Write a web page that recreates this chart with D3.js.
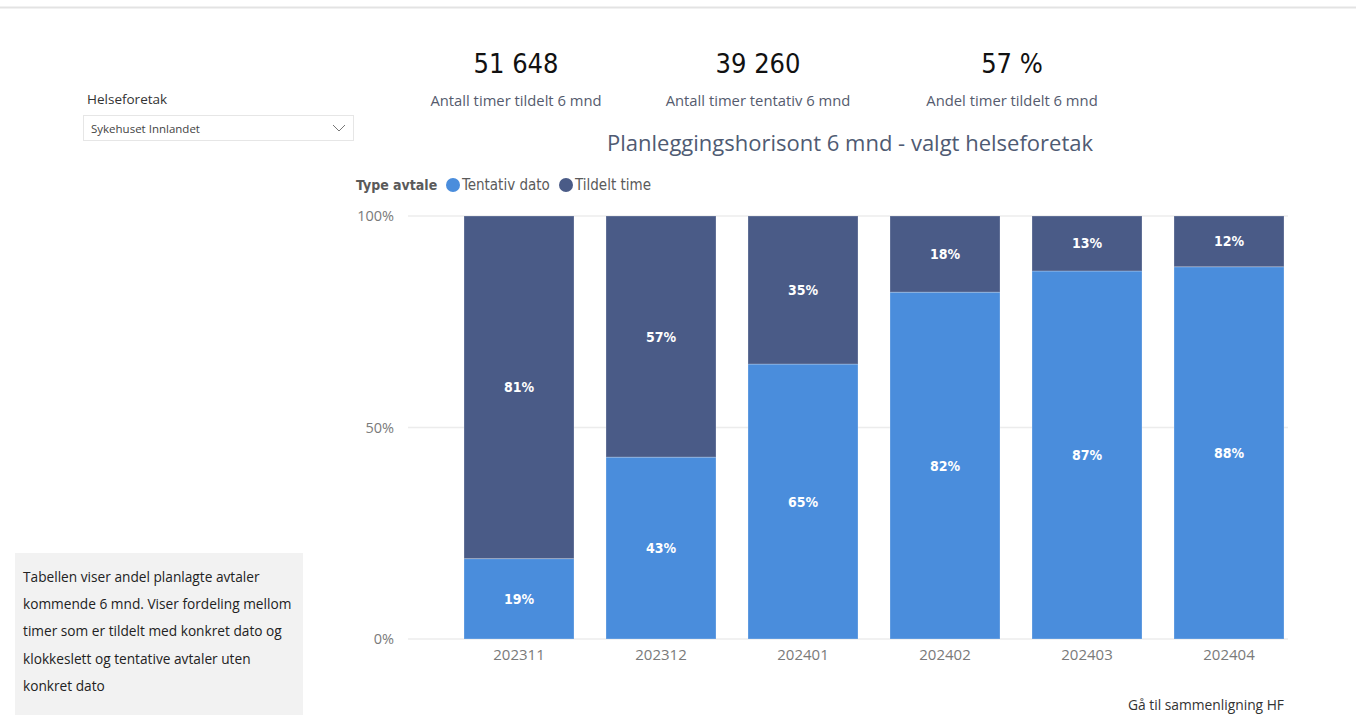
<!DOCTYPE html>
<html>
<head>
<meta charset="utf-8">
<script src="https://cdn.jsdelivr.net/npm/d3@7"></script>
<style>
  body { margin: 0; background: #fff; }
  svg { display: block; }
</style>
</head>
<body>
<svg id="chart" width="1360" height="715"></svg>
<script>
// data
const months = ["202311", "202312", "202401", "202402", "202403", "202404"];
const tentativ = [19, 43, 65, 82, 87, 88];
const tildelt = [81, 57, 35, 18, 13, 12];
const seriesNames = ["Tentativ dato", "Tildelt time"];
const kpiValues = ["51 648", "39 260", "57 %"];
const kpiLabels = ["Antall timer tildelt 6 mnd", "Antall timer tentativ 6 mnd", "Andel timer tildelt 6 mnd"];
const yTicks = [0, 50, 100];
const noteLines = [
  "Tabellen viser andel planlagte avtaler",
  "kommende 6 mnd. Viser fordeling mellom",
  "timer som er tildelt med konkret dato og",
  "klokkeslett og tentative avtaler uten",
  "konkret dato"
];

const COND = "'Liberation Sans Narrow', 'DejaVu Sans Condensed', 'Roboto', sans-serif";
const UI = "'Open Sans', 'Noto Sans', sans-serif";
const colors = {"Tentativ dato": "#4A8DDC", "Tildelt time": "#4A5B87"};

const svg = d3.select("#chart");

// top border of the page
svg.append("line").attr("x1", 0).attr("x2", 1356).attr("y1", 7.5).attr("y2", 7.5)
  .attr("stroke", "#e3e3e3").attr("stroke-width", 2);

// slicer
svg.append("text").attr("x", 87).attr("y", 104).text("Helseforetak")
  .style("font-family", UI).style("font-size", "13.5px").attr("fill", "#333");
svg.append("rect").attr("x", 83.5).attr("y", 115.5).attr("width", 270).attr("height", 25)
  .attr("fill", "#fff").attr("stroke", "#e6e6e6");
svg.append("text").attr("x", 91).attr("y", 133).text("Sykehuset Innlandet")
  .style("font-family", UI).style("font-size", "11.5px").attr("fill", "#444");
svg.append("path").attr("d", "M333,125 l6,6 l6,-6").attr("fill", "none").attr("stroke", "#777").attr("stroke-width", 1);

// kpi cards
const kpiX = [516, 758, 1012];
kpiValues.forEach((v, i) => {
  svg.append("text").attr("x", kpiX[i]).attr("y", 73).attr("text-anchor", "middle").text(v)
    .style("font-family", COND).style("font-size", "27px").attr("fill", "#111");
  svg.append("text").attr("x", kpiX[i]).attr("y", 106).attr("text-anchor", "middle").text(kpiLabels[i])
    .style("font-family", UI).style("font-size", "14.8px").attr("fill", "#555b6e");
});

// chart title
svg.append("text").attr("x", 850).attr("y", 151).attr("text-anchor", "middle")
  .text("Planleggingshorisont 6 mnd - valgt helseforetak")
  .style("font-family", UI).style("font-size", "22px").attr("fill", "#4f5b73");

// legend
const leg = svg.append("g");
leg.append("text").attr("x", 356).attr("y", 190).text("Type avtale")
  .style("font-family", COND).style("font-size", "14px").style("font-weight", "bold").attr("fill", "#5a5a5a");
const legX = [453, 566];
seriesNames.forEach((s, i) => {
  leg.append("circle").attr("cx", legX[i]).attr("cy", 185).attr("r", 7).attr("fill", colors[s]);
  leg.append("text").attr("x", legX[i] + 9).attr("y", 190).text(s)
    .style("font-family", COND).style("font-size", "15px").attr("fill", "#5a5a5a");
});

// scales
const x = d3.scaleBand().domain(months).range([448, 1300])
  .paddingInner(32 / 142).paddingOuter(16 / 142);
const y = d3.scaleLinear().domain([0, 100]).range([639, 216]);

// gridlines
svg.append("g").selectAll("line").data(yTicks).join("line")
  .attr("x1", 408).attr("x2", 1288)
  .attr("y1", d => y(d)).attr("y2", d => y(d))
  .attr("stroke", "#ececec").attr("stroke-width", 1.5);

// y axis labels
const yAxis = svg.append("g").attr("transform", "translate(400,0)")
  .call(d3.axisLeft(y).tickValues(yTicks).tickFormat(d => d + "%").tickSize(0).tickPadding(6));
yAxis.select(".domain").remove();
yAxis.selectAll("text").style("font-family", UI).style("font-size", "14.5px").attr("fill", "#7a7a7a");

// x axis labels
const xAxis = svg.append("g").attr("transform", "translate(0,639)")
  .call(d3.axisBottom(x).tickSize(0).tickPadding(10));
xAxis.select(".domain").remove();
xAxis.selectAll("text").style("font-family", UI).style("font-size", "15px").attr("fill", "#7a7a7a");

// stacked bars
const rows = months.map((m, i) => ({month: m, "Tentativ dato": tentativ[i], "Tildelt time": tildelt[i]}));
const stacked = d3.stack().keys(seriesNames)(rows);

const layers = svg.append("g").selectAll("g").data(stacked).join("g")
  .attr("fill", d => colors[d.key]);
layers.selectAll("rect").data(d => d).join("rect")
  .attr("x", d => x(d.data.month))
  .attr("width", x.bandwidth())
  .attr("y", d => y(d[1]))
  .attr("height", d => y(d[0]) - y(d[1]))
  .attr("stroke", "rgba(255,255,255,0.25)").attr("stroke-width", 1);

layers.selectAll("text").data(d => d.map(v => ({v, key: d.key}))).join("text")
  .attr("x", d => x(d.v.data.month) + x.bandwidth() / 2)
  .attr("y", d => (y(d.v[0]) + y(d.v[1])) / 2 + 5)
  .attr("text-anchor", "middle")
  .text(d => d.v.data[d.key] + "%")
  .style("font-family", COND).style("font-size", "14px").style("font-weight", "bold")
  .attr("fill", "#fff");

// note box
svg.append("rect").attr("x", 15).attr("y", 553).attr("width", 288).attr("height", 162).attr("fill", "#f2f2f2");
svg.append("g").selectAll("text").data(noteLines).join("text")
  .attr("x", 23).attr("y", (d, i) => 582 + i * 27.2)
  .text(d => d)
  .style("font-family", UI).style("font-size", "13.7px").attr("fill", "#222");

// link button
svg.append("text").attr("x", 1284).attr("y", 710).attr("text-anchor", "end").text("Gå til sammenligning HF")
  .style("font-family", UI).style("font-size", "13.8px").attr("fill", "#333");
</script>
</body>
</html>
